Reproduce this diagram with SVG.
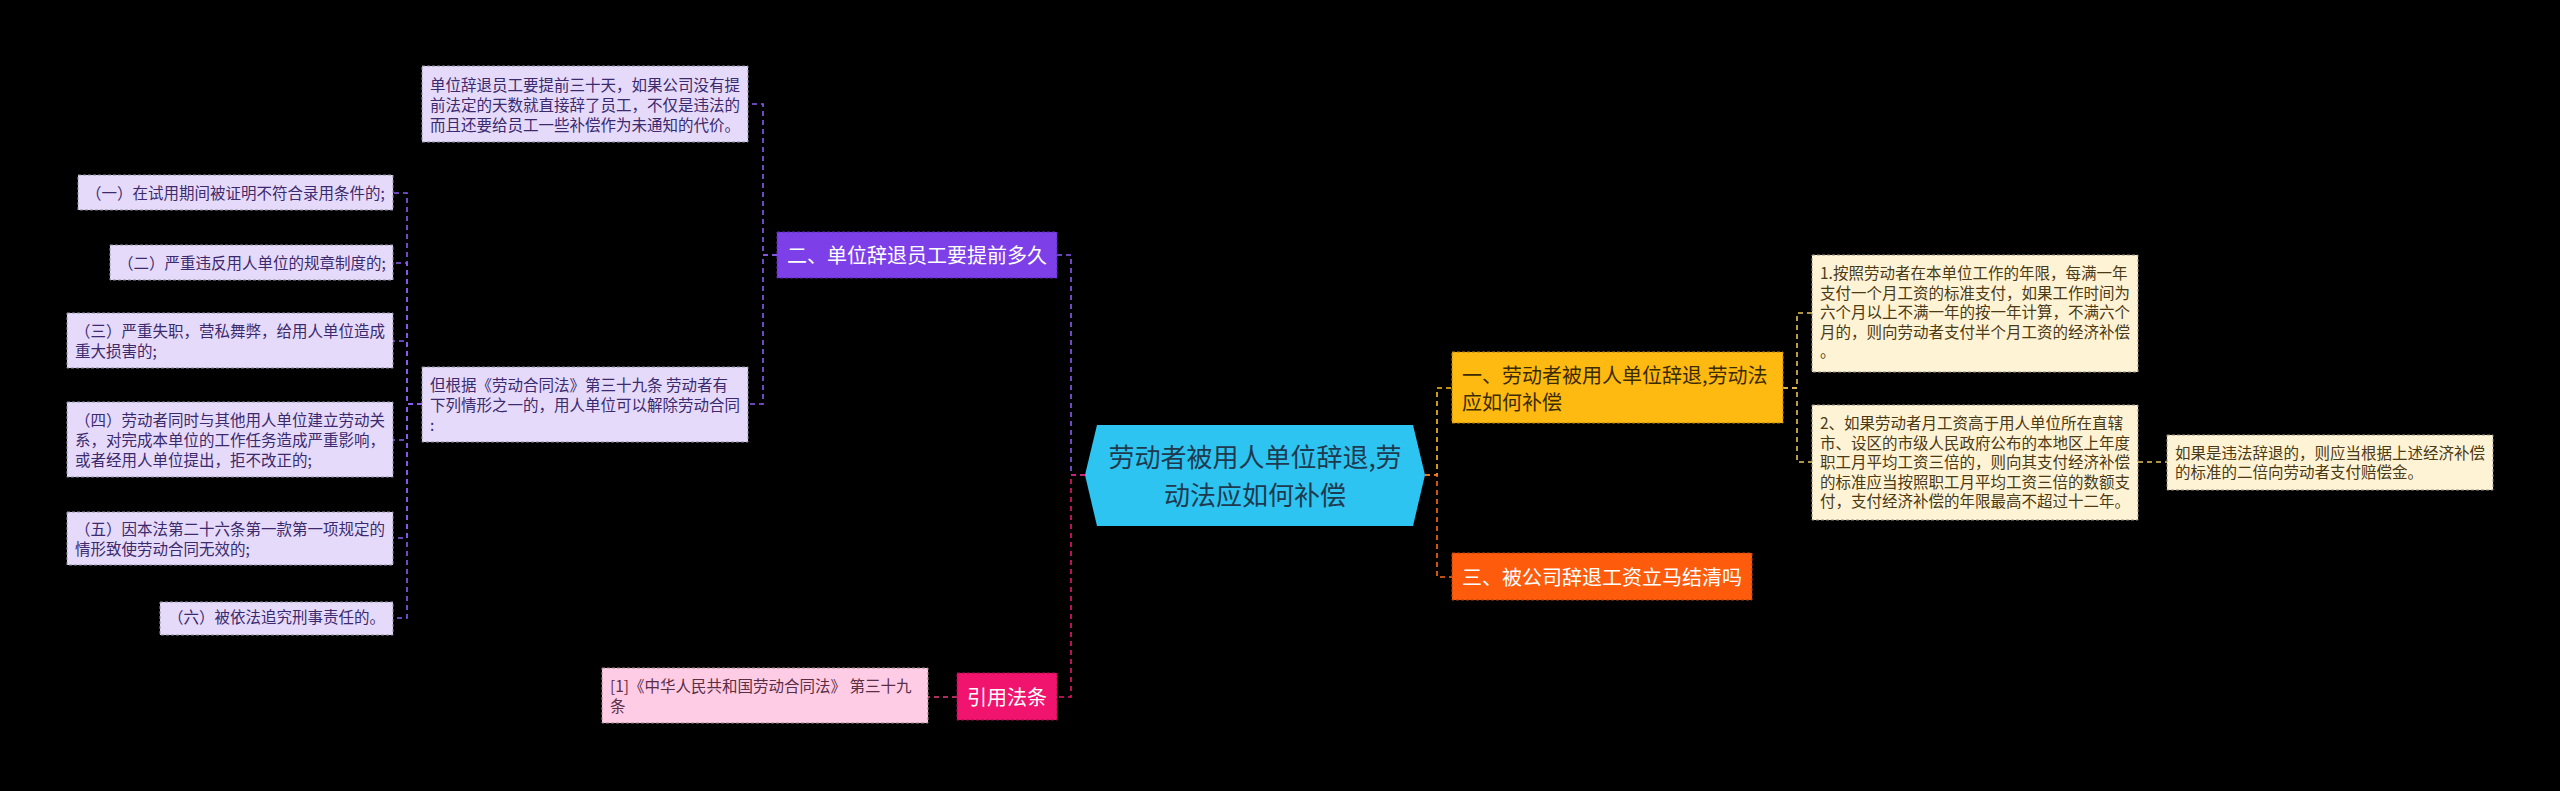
<svg xmlns="http://www.w3.org/2000/svg" width="2560" height="791" viewBox="0 0 2560 791">
<style>
text{font-family:"Noto Sans CJK SC","Noto Sans",sans-serif;}
.s{font-size:15.5px;}
.m{font-size:20px;}
.lav rect{fill:#E6DAFA;stroke:#8f8f9f;stroke-width:1;stroke-dasharray:3,2;}
.lav text{fill:#3B2A6E;}
.cre rect{fill:#FFF3D6;stroke:#9a9080;stroke-width:1;stroke-dasharray:3,2;}
.cre text{fill:#4A3A15;}
.pnk rect{fill:#FFCCE6;stroke:#a08890;stroke-width:1;stroke-dasharray:3,2;}
.pnk text{fill:#5A2E45;}
.e{fill:none;stroke-width:1.6;stroke-dasharray:5,4;}
</style>
<rect width="2560" height="791" fill="#000"/>
<g id="connectors">
<path class="e" stroke="#8A5CF0" d="M1085 475H1071V255H1057"/>
<path class="e" stroke="#E8186B" d="M1085 475H1071V697H1057"/>
<path class="e" stroke="#FFC21A" d="M1425 475H1437V388H1452"/>
<path class="e" stroke="#FF6A1A" d="M1425 475H1437V577H1452"/>
<path class="e" stroke="#8A5CF0" d="M777 255H763V104H748"/>
<path class="e" stroke="#8A5CF0" d="M777 255H763V404H748"/>
<path class="e" stroke="#8A5CF0" d="M422 404H407V193H393"/>
<path class="e" stroke="#8A5CF0" d="M422 404H407V263H393"/>
<path class="e" stroke="#8A5CF0" d="M422 404H407V341H393"/>
<path class="e" stroke="#8A5CF0" d="M422 404H407V440H393"/>
<path class="e" stroke="#8A5CF0" d="M422 404H407V538H393"/>
<path class="e" stroke="#8A5CF0" d="M422 404H407V618H393"/>
<path class="e" stroke="#E8407F" d="M957 697H928"/>
<path class="e" stroke="#E8C35A" d="M1783 388H1797V313H1812"/>
<path class="e" stroke="#E8C35A" d="M1783 388H1797V462H1812"/>
<path class="e" stroke="#E8C35A" d="M2138 462H2167"/>
</g>
<g id="center">
<polygon points="1085,475 1097,425 1413,425 1425,475 1413,526 1097,526" fill="#2EC4F2"/>
<text x="1255" y="467" font-size="26" text-anchor="middle" fill="#1E3A4E">劳动者被用人单位辞退,劳</text>
<text x="1255" y="505" font-size="26" text-anchor="middle" fill="#1E3A4E">动法应如何补偿</text>
</g>
<g id="n-er">
<rect x="777" y="232" width="280" height="46" fill="#7D3FE8" stroke="#5a2cb0" stroke-width="1" stroke-dasharray="3,2"/>
<text class="m" x="787" y="262.5" fill="#fff">二、单位辞退员工要提前多久</text>
</g>
<g id="n-yi">
<rect x="1452" y="352" width="331" height="71" fill="#FFBA12" stroke="#b08010" stroke-width="1" stroke-dasharray="3,2"/>
<text class="m" x="1462" y="382.5" fill="#3A2C00">一、劳动者被用人单位辞退,劳动法</text>
<text class="m" x="1462" y="409.5" fill="#3A2C00">应如何补偿</text>
</g>
<g id="n-san">
<rect x="1452" y="553" width="300" height="47" fill="#FF5B0C" stroke="#b04008" stroke-width="1" stroke-dasharray="3,2"/>
<text class="m" x="1462" y="585" fill="#fff">三、被公司辞退工资立马结清吗</text>
</g>
<g id="n-yinyong">
<rect x="957" y="673" width="100" height="47" fill="#F0146E" stroke="#a00c4a" stroke-width="1" stroke-dasharray="3,2"/>
<text class="m" x="1007" y="704.5" text-anchor="middle" fill="#fff">引用法条</text>
</g>
<g id="n-a" class="lav">
<rect x="422" y="66" width="326" height="76"/>
<text class="s" x="430" y="91">单位辞退员工要提前三十天，如果公司没有提</text>
<text class="s" x="430" y="111">前法定的天数就直接辞了员工，不仅是违法的</text>
<text class="s" x="430" y="131">而且还要给员工一些补偿作为未通知的代价。</text>
</g>
<g id="n-b" class="lav">
<rect x="422" y="367" width="326" height="75"/>
<text class="s" x="430" y="391">但根据《劳动合同法》第三十九条 劳动者有</text>
<text class="s" x="430" y="411">下列情形之一的，用人单位可以解除劳动合同</text>
<text class="s" x="430" y="431">:</text>
</g>
<g id="n-b1" class="lav">
<rect x="78" y="175" width="315" height="35"/>
<text class="s" x="86" y="198.5">（一）在试用期间被证明不符合录用条件的;</text>
</g>
<g id="n-b2" class="lav">
<rect x="110" y="245" width="283" height="35"/>
<text class="s" x="118" y="268.5">（二）严重违反用人单位的规章制度的;</text>
</g>
<g id="n-b3" class="lav">
<rect x="67" y="313" width="326" height="55"/>
<text class="s" x="75" y="337">（三）严重失职，营私舞弊，给用人单位造成</text>
<text class="s" x="75" y="357">重大损害的;</text>
</g>
<g id="n-b4" class="lav">
<rect x="67" y="402" width="326" height="75"/>
<text class="s" x="75" y="426">（四）劳动者同时与其他用人单位建立劳动关</text>
<text class="s" x="75" y="446">系，对完成本单位的工作任务造成严重影响，</text>
<text class="s" x="75" y="466">或者经用人单位提出，拒不改正的;</text>
</g>
<g id="n-b5" class="lav">
<rect x="67" y="512" width="326" height="53"/>
<text class="s" x="75" y="535">（五）因本法第二十六条第一款第一项规定的</text>
<text class="s" x="75" y="555">情形致使劳动合同无效的;</text>
</g>
<g id="n-b6" class="lav">
<rect x="160" y="602" width="233" height="33"/>
<text class="s" x="168" y="623">（六）被依法追究刑事责任的。</text>
</g>
<g id="n-ref" class="pnk">
<rect x="602" y="668" width="326" height="55"/>
<text class="s" x="610" y="692">[1]《中华人民共和国劳动合同法》 第三十九</text>
<text class="s" x="610" y="712">条</text>
</g>
<g id="n-c1" class="cre">
<rect x="1812" y="255" width="326" height="117"/>
<text class="s" x="1820" y="279">1.按照劳动者在本单位工作的年限，每满一年</text>
<text class="s" x="1820" y="298.5">支付一个月工资的标准支付，如果工作时间为</text>
<text class="s" x="1820" y="318">六个月以上不满一年的按一年计算，不满六个</text>
<text class="s" x="1820" y="337.5">月的，则向劳动者支付半个月工资的经济补偿</text>
<text class="s" x="1820" y="357">。</text>
</g>
<g id="n-c2" class="cre">
<rect x="1812" y="405" width="326" height="115"/>
<text class="s" x="1820" y="429">2、如果劳动者月工资高于用人单位所在直辖</text>
<text class="s" x="1820" y="448.5">市、设区的市级人民政府公布的本地区上年度</text>
<text class="s" x="1820" y="468">职工月平均工资三倍的，则向其支付经济补偿</text>
<text class="s" x="1820" y="487.5">的标准应当按照职工月平均工资三倍的数额支</text>
<text class="s" x="1820" y="507">付，支付经济补偿的年限最高不超过十二年。</text>
</g>
<g id="n-c3" class="cre">
<rect x="2167" y="435" width="326" height="55"/>
<text class="s" x="2175" y="459">如果是违法辞退的，则应当根据上述经济补偿</text>
<text class="s" x="2175" y="478">的标准的二倍向劳动者支付赔偿金。</text>
</g>
</svg>
